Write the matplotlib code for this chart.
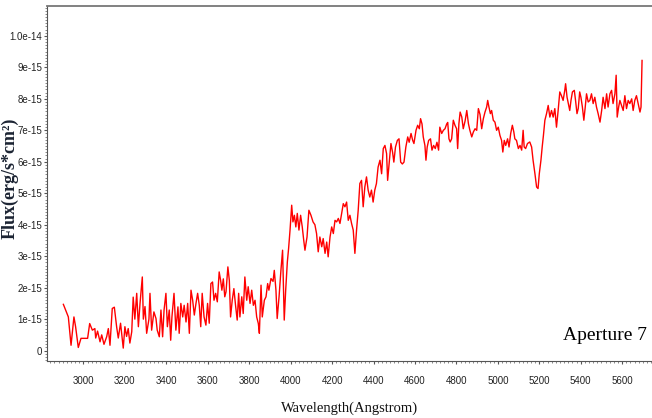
import numpy as np
import matplotlib
matplotlib.use("Agg")
import matplotlib.pyplot as plt
from matplotlib.ticker import MultipleLocator, FixedLocator, FixedFormatter

# Spectrum of aperture 7 (flux in units of 1e-15 erg/s/cm^2)
wavelength = [
    2903, 2927, 2940, 2954, 2962, 2975, 2988, 3020, 3030, 3043, 3055, 3059, 3068, 3080, 3088,
    3099, 3112, 3120, 3128, 3139, 3149, 3160, 3168, 3179, 3192, 3200, 3208, 3216, 3224, 3233,
    3240, 3248, 3257, 3265, 3273, 3284, 3289, 3297, 3305, 3316, 3321, 3329, 3340, 3350, 3356,
    3366, 3374, 3382, 3389, 3398, 3405, 3414, 3421, 3427, 3437, 3446, 3456, 3462, 3470, 3479,
    3486, 3495, 3503, 3511, 3519, 3527, 3535, 3543, 3551, 3559, 3566, 3573, 3582, 3591, 3599,
    3607, 3615, 3623, 3630, 3638, 3646, 3655, 3662, 3668, 3675, 3682, 3688, 3697, 3704, 3710,
    3718, 3726, 3734, 3742, 3749, 3755, 3764, 3771, 3779, 3788, 3795, 3804, 3812, 3820, 3828,
    3836, 3844, 3849, 3857, 3863, 3873, 3881, 3889, 3895, 3905, 3915, 3921, 3929, 3935, 3944,
    3953, 3961, 3969, 3976, 3984, 3990, 3997, 4005, 4011, 4018, 4025, 4032, 4040, 4048, 4056,
    4063, 4069, 4079, 4088, 4098, 4108, 4117, 4125, 4133, 4141, 4150, 4157, 4166, 4174, 4181,
    4190, 4198, 4206, 4214, 4222, 4230, 4238, 4246, 4254, 4262, 4270, 4278, 4286, 4294, 4302,
    4310, 4318, 4326, 4334, 4342, 4350, 4358, 4366, 4374, 4382, 4390, 4398, 4406, 4414, 4422,
    4431, 4439, 4447, 4455, 4463, 4468, 4476, 4484, 4492, 4498, 4506, 4515, 4523, 4531, 4539,
    4547, 4556, 4565, 4572, 4581, 4589, 4595, 4605, 4613, 4621, 4627, 4634, 4640, 4648, 4653,
    4659, 4666, 4675, 4682, 4690, 4698, 4706, 4714, 4720, 4729, 4737, 4745, 4753, 4758, 4764,
    4770, 4777, 4785, 4793, 4801, 4806, 4812, 4818, 4826, 4833, 4842, 4850, 4858, 4865, 4874,
    4882, 4890, 4898, 4906, 4914, 4922, 4930, 4938, 4946, 4951, 4957, 4964, 4970, 4978, 4986,
    4994, 5002, 5010, 5018, 5024, 5031, 5038, 5047, 5054, 5062, 5070, 5077, 5082, 5090, 5099,
    5107, 5115, 5122, 5127, 5134, 5143, 5154, 5163, 5170, 5179, 5187, 5194, 5200, 5208, 5214,
    5220, 5227, 5235, 5243, 5251, 5259, 5267, 5275, 5283, 5291, 5299, 5307, 5315, 5323, 5327,
    5334, 5340, 5347, 5353, 5360, 5369, 5375, 5382, 5388, 5395, 5401, 5408, 5415, 5421, 5428,
    5436, 5444, 5452, 5460, 5468, 5476, 5484, 5493, 5501, 5508, 5517, 5525, 5532, 5541, 5549,
    5556, 5565, 5571, 5576, 5583, 5589, 5597, 5605, 5613, 5621, 5629, 5637, 5646, 5653, 5661,
    5669, 5677, 5686, 5691, 5696,
]
flux = [
    1.47, 1.07, 0.17, 1.07, 0.76, 0.10, 0.39, 0.39, 0.86, 0.65, 0.70, 0.40, 0.62, 0.28, 0.50,
    0.20, 0.44, 0.70, 0.17, 1.34, 1.38, 0.76, 0.40, 0.87, 0.08, 0.76, 0.45, 0.70, 0.24, 0.60,
    1.70, 1.00, 1.82, 0.76, 1.50, 2.34, 1.00, 1.40, 0.55, 1.00, 1.82, 0.65, 1.23, 1.02, 0.65,
    0.44, 1.29, 0.44, 1.29, 1.82, 0.76, 1.29, 0.33, 1.07, 1.82, 0.65, 1.39, 0.55, 1.50, 1.07,
    1.44, 0.91, 1.50, 0.55, 1.92, 1.60, 1.13, 1.50, 1.82, 1.44, 0.76, 1.82, 1.07, 0.81, 1.50,
    0.87, 2.13, 2.18, 1.60, 1.82, 1.55, 2.50, 2.23, 1.92, 2.28, 1.71, 1.87, 2.66, 2.23, 1.07,
    1.60, 1.97, 1.44, 0.97, 1.82, 1.07, 1.71, 1.18, 2.34, 1.60, 2.03, 1.50, 1.92, 1.44, 1.60,
    1.07, 0.86, 0.55, 2.08, 1.07, 1.60, 1.71, 2.13, 1.92, 2.29, 2.20, 2.55, 1.92, 1.02, 1.71,
    2.55, 3.19, 0.97, 1.92, 2.82, 3.24, 3.83, 4.62, 4.09, 4.30, 3.93, 4.36, 3.83, 4.30, 3.93,
    3.51, 3.19, 3.61, 4.46, 4.30, 4.09, 4.00, 3.72, 3.14, 3.61, 3.30, 3.56, 3.09, 3.45, 2.98,
    3.61, 3.93, 3.72, 4.14, 4.09, 4.20, 4.04, 4.36, 4.67, 4.57, 4.72, 4.14, 4.30, 4.04, 3.83,
    3.09, 3.83, 4.46, 5.31, 5.41, 4.57, 5.20, 5.52, 5.10, 4.88, 5.10, 4.72, 5.10, 5.31, 5.83,
    6.05, 5.62, 6.42, 6.52, 6.26, 5.41, 5.99, 6.58, 6.30, 5.99, 6.47, 6.68, 6.73, 5.99, 5.93,
    5.99, 6.47, 6.79, 6.62, 6.90, 6.68, 6.58, 7.00, 7.16, 7.05, 7.37, 7.20, 6.79, 6.52, 6.05,
    6.47, 6.68, 6.73, 6.37, 6.52, 6.42, 6.62, 6.37, 7.10, 6.90, 7.00, 7.05, 7.20, 7.25, 6.73,
    6.63, 6.73, 7.32, 7.16, 7.05, 6.42, 7.21, 7.58, 7.42, 7.05, 7.30, 7.63, 7.21, 7.00, 6.79,
    6.95, 7.05, 7.00, 7.69, 7.50, 7.05, 7.37, 7.58, 7.74, 7.95, 7.74, 7.53, 7.63, 7.32, 7.26,
    7.00, 7.10, 6.84, 6.68, 6.31, 6.68, 6.52, 6.73, 6.47, 6.90, 7.16, 6.95, 6.73, 6.68, 6.42,
    6.52, 6.37, 7.00, 6.47, 6.42, 6.58, 6.63, 6.47, 6.05, 5.62, 5.20, 5.15, 5.62, 6.05, 6.47,
    6.84, 7.32, 7.53, 7.79, 7.42, 7.63, 7.42, 7.69, 7.10, 7.63, 8.22, 8.10, 7.95, 8.27, 8.48,
    8.05, 7.85, 7.63, 7.95, 8.22, 8.27, 7.95, 7.53, 7.69, 8.22, 8.05, 7.74, 7.32, 7.69, 8.16,
    7.90, 7.95, 8.16, 7.85, 8.05, 7.74, 7.53, 7.26, 7.63, 8.05, 7.69, 8.16, 7.74, 8.16, 8.27,
    7.85, 8.16, 8.75, 7.42, 7.74, 7.95, 7.79, 7.63, 8.10, 7.69, 7.95, 7.85, 8.00, 7.63, 7.95,
    8.10, 7.85, 7.58, 7.74, 9.22,
]

ytick_values = [0, 1e-15, 2e-15, 3e-15, 4e-15, 5e-15, 6e-15, 7e-15, 8e-15, 9e-15, 1e-14]
ytick_labels = ["0", "1e-15", "2e-15", "3e-15", "4e-15", "5e-15", "6e-15",
                "7e-15", "8e-15", "9e-15", "1.0e-14"]
xtick_values = list(range(3000, 5601, 200))

fig = plt.figure(figsize=(6.52, 4.18), dpi=100)
ax = fig.add_axes([47 / 652, 1 - 361 / 418, 605 / 652, 355 / 418])

ax.plot(wavelength, np.array(flux) * 1e-15, color="#ff0000", lw=1.0)

ax.set_xlim(2824, 5744)
ax.set_ylim(-0.33e-15, 10.95e-15)

ax.xaxis.set_major_locator(FixedLocator(xtick_values))
ax.xaxis.set_minor_locator(MultipleLocator(20))
ax.yaxis.set_major_locator(FixedLocator(ytick_values))
ax.yaxis.set_major_formatter(FixedFormatter(ytick_labels))
ax.yaxis.set_minor_locator(MultipleLocator(0.1e-15))

ax.tick_params(axis="both", which="major", direction="out", length=2.5, width=0.8,
               color="#555555", labelsize=7, labelcolor="#222222")
ax.tick_params(axis="both", which="minor", direction="out", length=1.3, width=0.6,
               color="#777777")
ax.tick_params(axis="x", which="major", pad=8)
ax.tick_params(axis="y", which="major", pad=1)
for lab in ax.get_xticklabels() + ax.get_yticklabels():
    lab.set_family("Liberation Sans")

ax.spines["right"].set_visible(False)
ax.spines["top"].set_color("#777777")
ax.spines["top"].set_linewidth(1.3)
for side in ("left", "bottom"):
    ax.spines[side].set_color("#555555")
    ax.spines[side].set_linewidth(0.8)

ax.text(0.992, 0.058, "Aperture 7", transform=ax.transAxes, ha="right", va="baseline",
        family="Liberation Serif", fontsize=14, color="black")

fig.text(350 / 652, 1 - 408 / 418, "Wavelength(Angstrom)", ha="center", va="center",
         family="Liberation Serif", fontsize=10.5, color="#111111")
fig.text(9.5 / 652, 1 - 178 / 418, "Flux(erg/s*cm\u00b2)", ha="center", va="center",
         rotation=90, family="Liberation Serif", fontweight="bold", fontsize=13,
         color="#1c2433")

fig.savefig("out.png", dpi=100)
